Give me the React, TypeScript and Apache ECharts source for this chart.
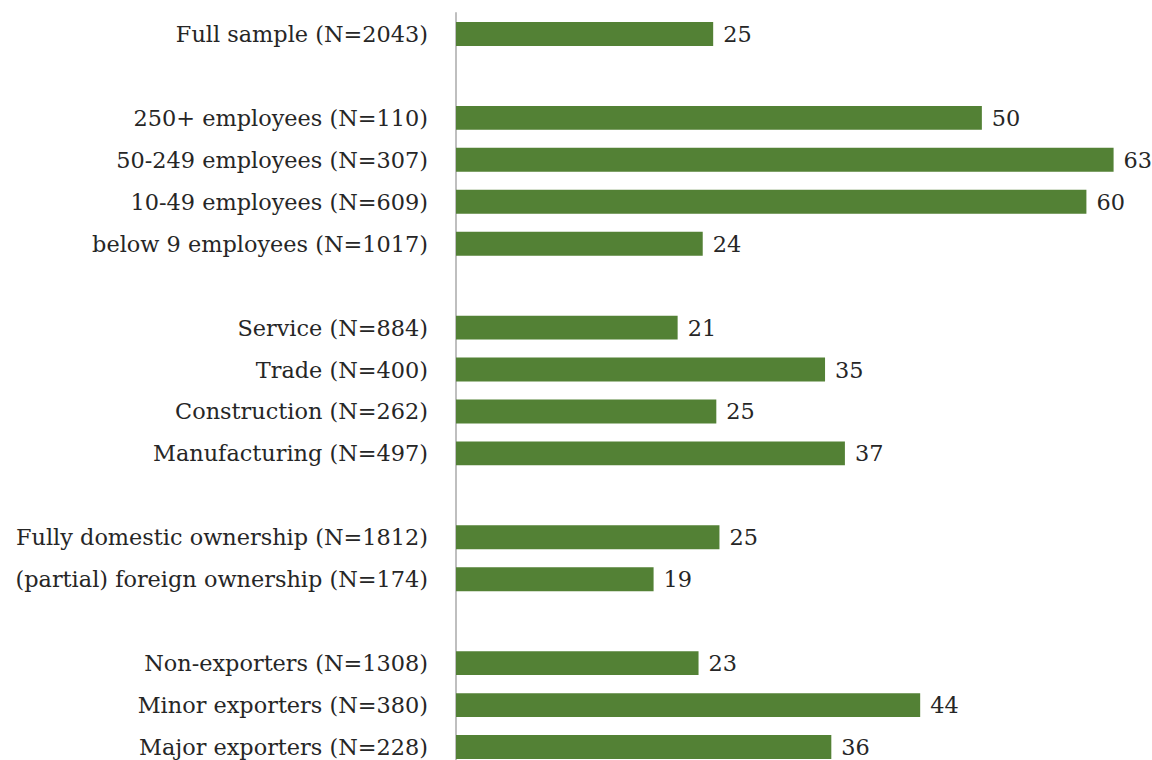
import React, { useEffect, useRef } from "react";
import * as echarts from "echarts";

const categories: string[] = [
  "Full sample (N=2043)",
  "",
  "250+ employees (N=110)",
  "50-249 employees (N=307)",
  "10-49 employees (N=609)",
  "below 9 employees (N=1017)",
  " ",
  "Service (N=884)",
  "Trade (N=400)",
  "Construction (N=262)",
  "Manufacturing (N=497)",
  "  ",
  "Fully domestic ownership (N=1812)",
  "(partial) foreign ownership (N=174)",
  "   ",
  "Non-exporters (N=1308)",
  "Minor exporters (N=380)",
  "Major exporters (N=228)",
];

const values: (number | null)[] = [
  24.6, null, 50.3, 62.9, 60.3, 23.6, null, 21.2, 35.3, 24.9, 37.2, null, 25.2, 18.9, null, 23.2, 44.4, 35.9,
];

const FONT = "DejaVu Serif";

export default function App() {
  const ref = useRef<HTMLDivElement>(null);
  useEffect(() => {
    if (!ref.current) return;
    const chart = echarts.init(ref.current, undefined, { renderer: "svg" });
    chart.setOption({
      animation: false,
      grid: {
        left: 456,
        top: 13,
        width: 690,
        bottom: -8,
        containLabel: false,
        outerBoundsMode: "none",
      },
      xAxis: {
        type: "value",
        min: 0,
        max: 66,
        show: false,
      },
      yAxis: {
        type: "category",
        inverse: true,
        data: categories,
        axisLine: { show: true, lineStyle: { color: "#bfbfbf", width: 2 } },
        axisTick: { show: false },
        axisLabel: {
          fontFamily: FONT,
          fontSize: 22.4,
          color: "#262626",
          margin: 28,
        },
      },
      series: [
        {
          type: "bar",
          data: values,
          barCategoryGap: "43%",
          itemStyle: { color: "#538135" },
          label: {
            show: true,
            position: "right",
            distance: 10,
            fontFamily: FONT,
            fontSize: 22.4,
            color: "#262626",
            formatter: (p: any) => (p.value == null ? "" : String(Math.round(p.value))),
          },
        },
      ],
    });
    return () => chart.dispose();
  }, []);
  return (
    <div
      ref={ref}
      style={{ position: "absolute", left: 0, top: 0, width: 1152, height: 760, background: "#fff" }}
    />
  );
}
